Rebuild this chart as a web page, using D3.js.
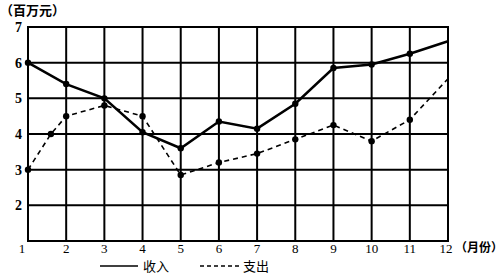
<!DOCTYPE html>
<html><head><meta charset="utf-8">
<script src="https://cdn.jsdelivr.net/npm/d3@7"></script>
<style>body{margin:0;background:#fff}svg{display:block}</style>
</head><body><svg id="c" width="504" height="275"></svg>
<script>
const months = [1,2,3,4,5,6,7,8,9,10,11,12];
const yTicks = [1,2,3,4,5,6,7];
const incomeX = [1,2,3,4,5,6,7,8,9,10,11,12];
const income = [6.0,5.4,5.0,4.05,3.6,4.35,4.15,4.85,5.85,5.95,6.25,6.6];
const expenseX = [1,1.6,2,3,4,5,6,7,8,9,10,11,12];
const expense = [3.0,4.0,4.5,4.8,4.5,2.85,3.2,3.45,3.85,4.25,3.8,4.4,5.55];

const svg = d3.select("#c");
const x = d3.scaleLinear().domain([1,12]).range([28,448]);
const y = d3.scaleLinear().domain([1,7]).range([241,27]);
const font = "'Liberation Serif', 'Noto Sans CJK SC', serif";
const cjk = "'Noto Sans CJK SC', sans-serif";

// grid
svg.append("g").selectAll("line").data(months).join("line")
  .attr("x1",d=>x(d)).attr("x2",d=>x(d)).attr("y1",y(1)).attr("y2",y(7))
  .attr("stroke","#000").attr("stroke-width",2);
svg.append("g").selectAll("line").data(yTicks).join("line")
  .attr("y1",d=>y(d)).attr("y2",d=>y(d)).attr("x1",x(1)-1).attr("x2",x(12)+1)
  .attr("stroke","#000").attr("stroke-width",2);

// x labels
svg.append("g").selectAll("text").data(months).join("text")
  .attr("x",d=> d===1 ? x(d)-6 : (d===12 ? x(d)-2 : x(d))).attr("y",253)
  .attr("text-anchor","middle").attr("font-family",font).attr("font-size",13)
  .text(d=>d);
svg.append("text").attr("x",x(12)+7).attr("y",252).attr("font-family",cjk)
  .attr("font-size",12).attr("font-weight","bold").text("（月份）");

// y labels
svg.append("g").selectAll("text").data(yTicks.filter(d=>d>1)).join("text")
  .attr("x",22).attr("y",d=>y(d)+5).attr("text-anchor","end")
  .attr("font-family",font).attr("font-weight","bold").attr("font-size",14)
  .text(d=>d);
svg.append("text").attr("x",0).attr("y",15).attr("font-family",cjk)
  .attr("font-size",13).attr("font-weight","bold").text("（百万元）");

// lines
const incPts = incomeX.map((m,i)=>[m,income[i]]);
const expPts = expenseX.map((m,i)=>[m,expense[i]]);
const line = d3.line().x(d=>x(d[0])).y(d=>y(d[1]));
svg.append("path").attr("d",line(incPts)).attr("fill","none")
  .attr("stroke","#000").attr("stroke-width",2.5);
svg.append("path").attr("d",line(expPts)).attr("fill","none")
  .attr("stroke","#000").attr("stroke-width",1.6).attr("stroke-dasharray","5,4");

svg.append("g").selectAll("circle").data(incPts.slice(0,-1)).join("circle")
  .attr("cx",d=>x(d[0])).attr("cy",d=>y(d[1])).attr("r",3.2).attr("fill","#000");
svg.append("g").selectAll("circle").data(expPts.slice(0,-1)).join("circle")
  .attr("cx",d=>x(d[0])).attr("cy",d=>y(d[1])).attr("r",3.2).attr("fill","#000");

// legend
svg.append("line").attr("x1",100).attr("x2",138).attr("y1",266).attr("y2",266)
  .attr("stroke","#000").attr("stroke-width",1.5);
svg.append("text").attr("x",143).attr("y",271).attr("font-family",cjk)
  .attr("font-size",13).text("收入");
svg.append("line").attr("x1",200).attr("x2",242).attr("y1",266).attr("y2",266)
  .attr("stroke","#000").attr("stroke-width",1.5).attr("stroke-dasharray","4,3");
svg.append("text").attr("x",243).attr("y",271).attr("font-family",cjk)
  .attr("font-size",13).text("支出");
</script></body></html>
